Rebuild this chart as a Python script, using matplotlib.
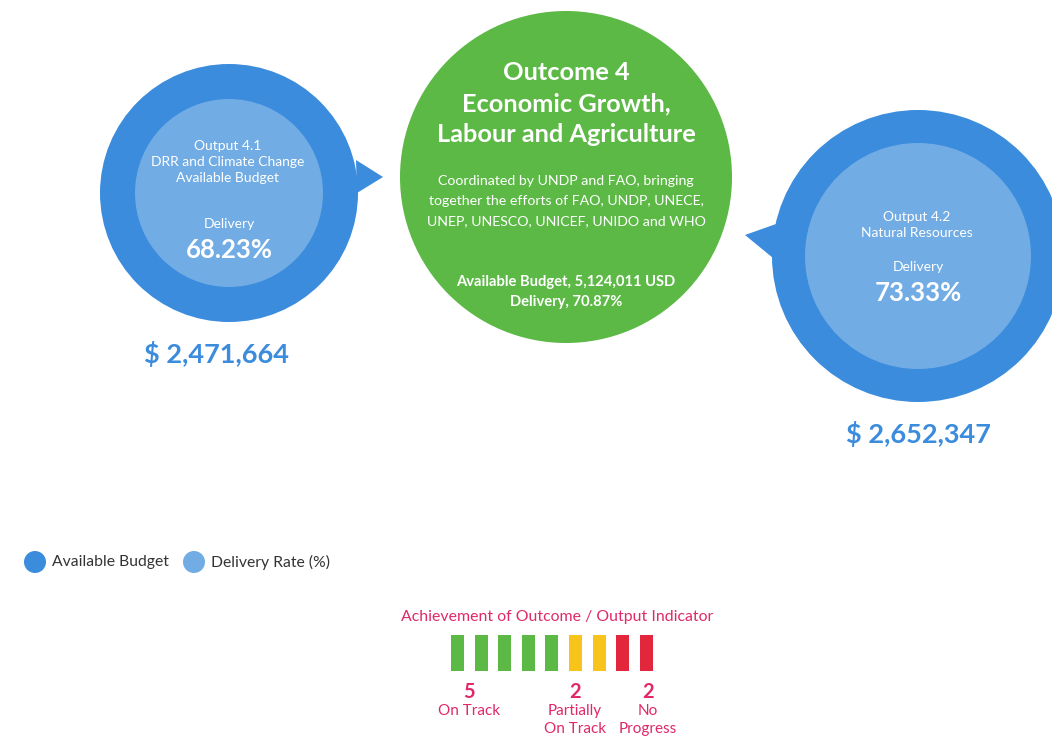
import matplotlib
matplotlib.use("Agg")
import matplotlib.pyplot as plt
from matplotlib.patches import Circle, Polygon, Rectangle

# ---------------- data ----------------
outcome_title = ["Outcome 4", "Economic Growth,", "Labour and Agriculture"]
outcome_desc = ["Coordinated by UNDP and FAO, bringing",
                "together the efforts of FAO, UNDP, UNECE,",
                "UNEP, UNESCO, UNICEF, UNIDO and WHO"]
outcome_budget = 5124011
outcome_delivery = 70.87

output_names = [["Output 4.1", "DRR and Climate Change", "Available Budget"],
                ["Output 4.2", "Natural Resources"]]
output_delivery = [68.23, 73.33]
output_budget = [2471664, 2652347]

legend_labels = ["Available Budget", "Delivery Rate (%)"]

status_labels = ["On Track", "Partially\nOn Track", "No\nProgress"]
status_counts = [5, 2, 2]

# ---------------- style ----------------
BLUE = "#3B8CDD"
LIGHT = "#71ACE4"
GREEN = "#5CB946"
YELLOW = "#F8C31A"
RED = "#E2263C"
PINK = "#E0286A"
status_colors = [GREEN, YELLOW, RED]
FONT = ["Lato", "DejaVu Sans"]

W, H = 1052, 741
fig = plt.figure(figsize=(W / 100, H / 100), dpi=100)
ax = fig.add_axes([0, 0, 1, 1])
ax.set_xlim(0, W)
ax.set_ylim(H, 0)
ax.set_aspect("equal")
ax.axis("off")

def txt(x, y, s, size, color="white", weight="normal", **kw):
    ax.text(x, y, s, fontsize=size, color=color, fontweight=weight,
            ha="center", va="center", family=FONT, **kw)

# ---------------- central outcome circle ----------------
cx, cy, cr = 566, 177, 166
ax.add_patch(Circle((cx, cy), cr, color=GREEN, lw=0, zorder=2))
for i, line in enumerate(outcome_title):
    txt(cx, 72 + i * 31.5, line, 18.3, weight="bold", zorder=5)
for i, line in enumerate(outcome_desc):
    txt(cx, 181 + i * 20, line, 10.2, zorder=5)
txt(cx, 282, f"Available Budget, {outcome_budget:,} USD", 10.6, weight="bold", zorder=5)
txt(cx, 302, f"Delivery, {outcome_delivery:.2f}%", 10.6, weight="bold", zorder=5)

# ---------------- output circles ----------------
layouts = [
    dict(c=(229, 193), R=129, r=94, tip=[(356, 160), (383, 177), (357, 193)],
         name_y=146, del_y=224, pct_y=250, money=(217, 354)),
    dict(c=(918, 256), R=146, r=113, tip=[(776, 224), (745, 235), (773, 258)],
         name_y=217, del_y=267, pct_y=293, money=(918, 434)),
]
for k, lay in enumerate(layouts):
    x0, y0 = lay["c"]
    ax.add_patch(Circle((x0, y0), lay["R"], color=BLUE, lw=0, zorder=2))
    ax.add_patch(Polygon(lay["tip"], closed=True, color=BLUE, lw=0, zorder=2))
    ax.add_patch(Circle((x0, y0), lay["r"], color=LIGHT, lw=0, zorder=3))
    for i, line in enumerate(output_names[k]):
        txt(x0 - 1, lay["name_y"] + i * 16, line, 10, zorder=5)
    txt(x0, lay["del_y"], "Delivery", 10, zorder=5)
    txt(x0, lay["pct_y"], f"{output_delivery[k]:.2f}%", 18.5, weight="bold", zorder=5)
    mx, my = lay["money"]
    txt(mx, my, f"$ {output_budget[k]:,}", 19.5, color=BLUE, weight="bold", zorder=5)

# ---------------- legend ----------------
leg_x = [35, 194]
for x, col, lab in zip(leg_x, [BLUE, LIGHT], legend_labels):
    ax.add_patch(Circle((x, 562), 11, color=col, lw=0))
    ax.text(x + 17, 562, lab, fontsize=11.3, color="#333333", ha="left",
            va="center", family=FONT)

# ---------------- indicator bars ----------------
txt(557, 617, "Achievement of Outcome / Output Indicator", 11.4, color=PINK)
bar_w, step, bx0, by0, bh = 13, 23.6, 451, 635, 36
idx = 0
for count, col in zip(status_counts, status_colors):
    for j in range(count):
        bx = bx0 + idx * step
        ax.add_patch(Rectangle((bx, by0), bar_w, bh, color=col, lw=0))
        idx += 1

label_x = [469, 575, 648]
for lx, count, lab in zip(label_x, status_counts, status_labels):
    txt(lx, 692, str(count), 14.5, color=PINK, weight="bold")
    ax.text(lx, 704, lab, fontsize=11, color=PINK, ha="center", va="top",
            family=FONT, linespacing=1.35)

fig.savefig("out.png", dpi=100, facecolor="white")
